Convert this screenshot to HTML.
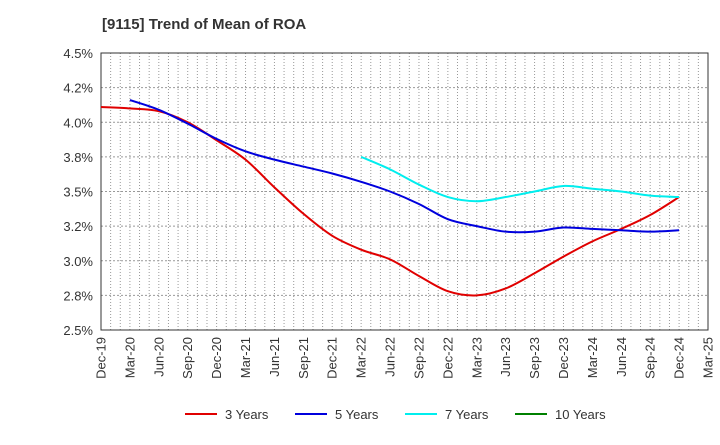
<!DOCTYPE html>
<html><head><meta charset="utf-8"><style>
body{margin:0;background:#fff;font-family:"Liberation Sans",sans-serif;}
svg text{font-family:"Liberation Sans",sans-serif;}
</style></head><body>
<svg id="c" width="720" height="440" xmlns="http://www.w3.org/2000/svg">
<text x="102" y="29" font-size="15" font-weight="bold" fill="#333">[9115]  Trend of Mean of ROA</text>
<g id="grid"></g><g id="axes"></g><g id="series"></g><g id="legend"></g>
</svg>
<script>
const categories=["Dec-19","Mar-20","Jun-20","Sep-20","Dec-20","Mar-21","Jun-21","Sep-21","Dec-21","Mar-22","Jun-22","Sep-22","Dec-22","Mar-23","Jun-23","Sep-23","Dec-23","Mar-24","Jun-24","Sep-24","Dec-24","Mar-25"];
const yTicks=[2.5,2.75,3.0,3.25,3.5,3.75,4.0,4.25,4.5];
const yTickLabels=["2.5%","2.8%","3.0%","3.2%","3.5%","3.8%","4.0%","4.2%","4.5%"];
const s3=[4.11,4.10,4.08,4.0,3.87,3.73,3.53,3.34,3.18,3.08,3.01,2.89,2.78,2.75,2.80,2.91,3.03,3.14,3.23,3.33,3.46];
const s5=[null,4.16,4.09,3.99,3.88,3.79,3.73,3.68,3.63,3.57,3.50,3.41,3.30,3.25,3.21,3.21,3.24,3.23,3.22,3.21,3.22];
const s7=[null,null,null,null,null,null,null,null,null,3.75,3.66,3.55,3.46,3.43,3.46,3.50,3.54,3.52,3.50,3.47,3.46];
const s10=[];
const L=101,R=708,T=53,B=330,NS="http://www.w3.org/2000/svg";
const xs=i=>L+(R-L)*i/(categories.length-1);
const ys=v=>B-(B-T)*(v-2.5)/2.0;
function mk(p,t,a){const e=document.createElementNS(NS,t);for(const k in a)e.setAttribute(k,a[k]);p.appendChild(e);return e;}
const grid=document.getElementById('grid'),axes=document.getElementById('axes'),ser=document.getElementById('series'),leg=document.getElementById('legend');
for(let m=1;m<(categories.length-1)*3;m++){const x=L+(R-L)*m/((categories.length-1)*3);
const g=mk(grid,'line',{x1:x,x2:x,y1:T,y2:B,stroke:'#999','stroke-dasharray':'1,2','stroke-width':1});

}
yTicks.forEach((v,i)=>{const y=ys(v);
if(i>0&&i<yTicks.length-1){const g=mk(grid,'line',{x1:L,x2:R,y1:y,y2:y,stroke:'#999','stroke-dasharray':'2,2'});

}
const t=mk(axes,'text',{x:L-8,y:y+5,'text-anchor':'end','font-size':13,fill:'#333'});t.textContent=yTickLabels[i];

});
const fr=mk(axes,'rect',{x:L,y:T,width:R-L,height:B-T,fill:'none',stroke:'#333'});


categories.forEach((c,i)=>{const x=xs(i);const t=mk(axes,'text',{transform:`translate(${x+4.5},${B+7}) rotate(-90)`,'text-anchor':'end','font-size':13,fill:'#333'});t.textContent=c;

});
function path(d){const p=[];d.forEach((v,i)=>{if(v!=null)p.push([xs(i),ys(v)]);});if(p.length<2)return'';
let s=`M${p[0][0]},${p[0][1]}`;for(let i=0;i<p.length-1;i++){const a=p[i-1]||p[i],b=p[i],c=p[i+1],d2=p[i+2]||c;
s+=` C${b[0]+(c[0]-a[0])/6},${b[1]+(c[1]-a[1])/6} ${c[0]-(d2[0]-b[0])/6},${c[1]-(d2[1]-b[1])/6} ${c[0]},${c[1]}`;}return s;}
const list=[["3 Years",s3,"#e00000"],["5 Years",s5,"#0000dd"],["7 Years",s7,"#00eeee"],["10 Years",s10,"#008000"]];
list.forEach(([n,d,c],k)=>{const dd=path(d);if(dd){const p=mk(ser,'path',{d:dd,fill:'none',stroke:c,'stroke-width':2});

}
const lx=[185,295,405,515][k];
const g=mk(leg,'g',{});


mk(g,'line',{x1:lx,x2:lx+32,y1:414,y2:414,stroke:c,'stroke-width':2});
const t=mk(g,'text',{x:lx+40,y:419,'font-size':13,fill:'#333'});t.textContent=n;});
</script>
</body></html>
